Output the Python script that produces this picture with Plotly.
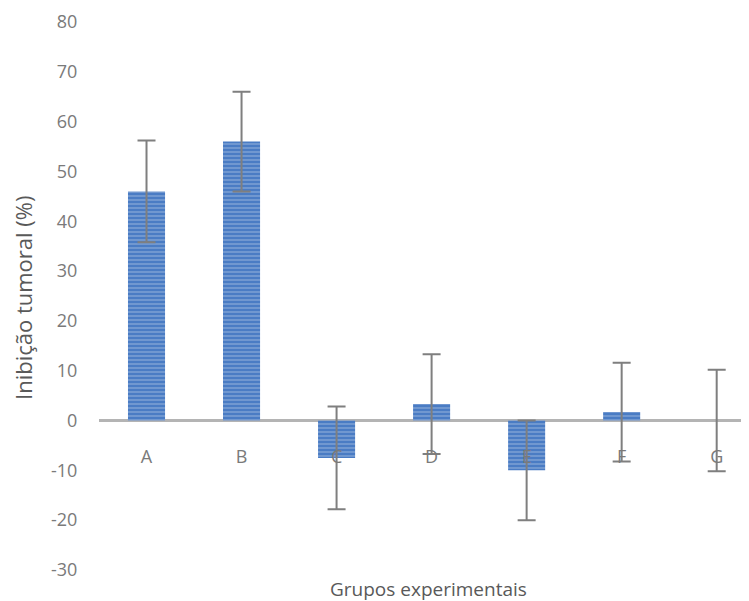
import plotly.graph_objects as go

categories = ["A", "B", "C", "D", "E", "F", "G"]
values = [46, 56, -7.5, 3.3, -10, 1.7, 0]
errors = [10.2, 10, 10.3, 10, 10, 9.9, 10.2]
y_ticks = [-30, -20, -10, 0, 10, 20, 30, 40, 50, 60, 70, 80]
y_tick_text = ["-30", "-20", "-10", "0", "10", "20", "30", "40", "50", "60", "70", "80"]
y_title = "Inibição tumoral (%)"
x_title = "Grupos experimentais"

# page has an 8px body margin; lay out in figure coordinates
OFF = 8
H, W = 601 - OFF, 749 - OFF
left, top, bottom = 99 - OFF, 22 - OFF, 570 - OFF
ph = bottom - top
pw = W - left
pos = (bottom - (444 - OFF)) / ph

FONT = "Open Sans, Lato, sans-serif"

fig = go.Figure()
fig.add_trace(go.Bar(
    x=categories, y=values, width=0.39,
    marker=dict(color="#4a7cc4", line=dict(width=0),
                pattern=dict(shape="-", fgcolor="rgba(255,255,255,0.7)", bgcolor="#4a7cc4",
                             size=4, solidity=0.3, fillmode="overlay")),
    error_y=dict(type="data", array=errors, visible=True, color="#7f7f7f", thickness=2, width=9),
))

fig.update_layout(
    width=W, height=H,
    margin=dict(l=left, r=0, t=top, b=H - bottom, autoexpand=False),
    plot_bgcolor="white", paper_bgcolor="white",
    font=dict(family=FONT, size=18, color="#7a7a7a"),
    showlegend=False,
    xaxis=dict(range=[-0.5, 6.34], showline=False, showgrid=False, zeroline=False,
               ticks="", anchor="free", position=pos, automargin=False,
               tickfont=dict(size=18, color="#7a7a7a")),
    yaxis=dict(range=[-30, 80], tickvals=y_ticks, ticktext=y_tick_text, showgrid=False, showline=False,
               zeroline=True, zerolinecolor="#b4b4b4", zerolinewidth=3, automargin=False,
               ticks="outside", ticklen=17, tickcolor="rgba(0,0,0,0)",
               tickfont=dict(size=18, color="#7a7a7a")),
    annotations=[
        dict(text=x_title, xref="paper", yref="paper",
             x=(428 - OFF - left) / pw, y=(bottom - (589 - OFF)) / ph, xanchor="center", yanchor="middle",
             showarrow=False, font=dict(size=19, color="#595959")),
        dict(text=y_title, xref="paper", yref="paper", textangle=-90,
             x=(23 - OFF - left) / pw, y=(bottom - (298 - OFF)) / ph, xanchor="center", yanchor="middle",
             showarrow=False, font=dict(size=22, color="#595959")),
    ],
)
fig.write_html("out.html")
